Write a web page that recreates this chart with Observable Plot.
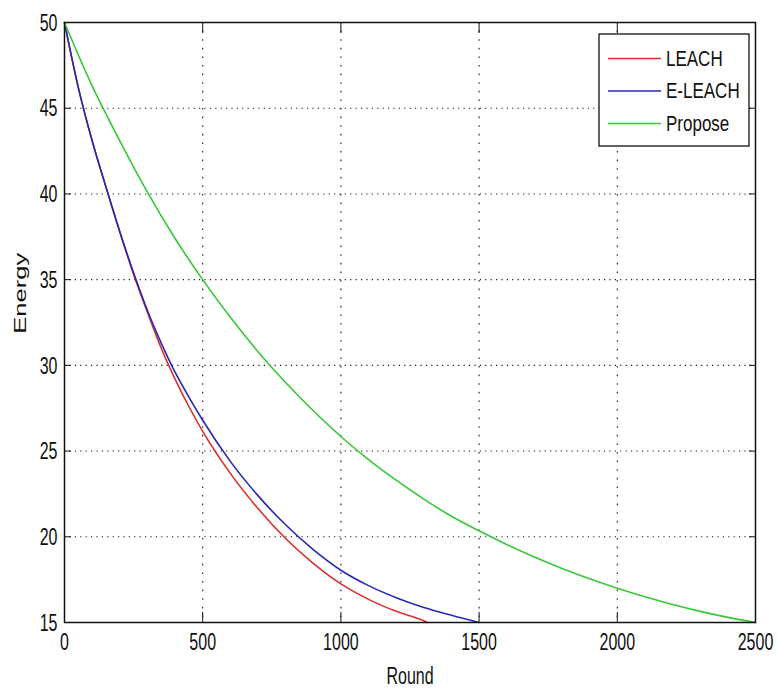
<!DOCTYPE html>
<html>
<head>
<meta charset="utf-8">
<script src="https://cdn.jsdelivr.net/npm/d3@7"></script>
<script src="https://cdn.jsdelivr.net/npm/@observablehq/plot@0.6"></script>
<style>
  html, body { margin: 0; padding: 0; background: white; }
  #chart svg { display: block; }
</style>
</head>
<body>
<div id="chart"></div>
<script>
// ---- Data ----
const seriesNames = ["LEACH", "E-LEACH", "Propose"];
const seriesColors = ["#d9302c", "#2828b4", "#36c836"];

const leachRounds = [0, 50, 100, 150, 200, 250, 300, 350, 400, 450, 500, 600, 700, 800, 900, 1000, 1100, 1200, 1300, 1313];
const leachEnergy = [50, 46.2, 43.1, 40.4, 37.8, 35.3, 33.1, 31.0, 29.2, 27.6, 26.15, 23.7, 21.65, 19.9, 18.45, 17.25, 16.35, 15.65, 15.1, 15.0];

const eleachRounds = [0, 50, 100, 150, 200, 250, 300, 350, 400, 450, 500, 600, 700, 800, 900, 1000, 1100, 1200, 1300, 1400, 1500];
const eleachEnergy = [50, 46.2, 43.1, 40.4, 37.8, 35.4, 33.2, 31.3, 29.6, 28.15, 26.8, 24.4, 22.4, 20.7, 19.25, 18.05, 17.15, 16.45, 15.88, 15.42, 15.0];

const proposeRounds = [0, 100, 200, 300, 400, 500, 600, 700, 800, 900, 1000, 1100, 1200, 1300, 1400, 1500, 1600, 1700, 1800, 1900, 2000, 2100, 2200, 2300, 2400, 2500];
const proposeEnergy = [50, 46.3, 43.1, 40.1, 37.4, 35.0, 32.8, 30.8, 29.0, 27.35, 25.85, 24.5, 23.3, 22.2, 21.2, 20.35, 19.55, 18.82, 18.15, 17.55, 17.0, 16.5, 16.05, 15.65, 15.3, 15.0];

const xTicks = [0, 500, 1000, 1500, 2000, 2500];
const yTicks = [15, 20, 25, 30, 35, 40, 45, 50];
const xLabel = "Round";
const yLabel = "Energy";

(function () {
  const toRows = (rounds, energy, name) => rounds.map((r, i) => ({round: r, energy: energy[i], series: name}));
  const rows = [
    toRows(leachRounds, leachEnergy, seriesNames[0]),
    toRows(eleachRounds, eleachEnergy, seriesNames[1]),
    toRows(proposeRounds, proposeEnergy, seriesNames[2])
  ];

  const innerX = xTicks.slice(1, -1);
  const innerY = yTicks.slice(1, -1);
  const plain = d => String(d);

  const chart = Plot.plot({
    width: 778,
    height: 688,
    marginTop: 22,
    marginRight: 23,
    marginBottom: 66,
    marginLeft: 64,
    style: {background: "white", fontFamily: "'Liberation Sans', Arial, sans-serif", fontSize: "16px", color: "#111"},
    x: {domain: [0, 2500]},
    y: {domain: [15, 50]},
    marks: [
      Plot.gridX(innerX, {stroke: "#1a1a1a", strokeOpacity: 1, strokeWidth: 1.1, strokeDasharray: "1.6,7"}),
      Plot.gridY(innerY, {stroke: "#1a1a1a", strokeOpacity: 1, strokeWidth: 1.1, strokeDasharray: "1.2,4.2"}),
      Plot.line(rows[0], {x: "round", y: "energy", stroke: seriesColors[0], strokeWidth: 1.6, curve: "monotone-x"}),
      Plot.line(rows[1], {x: "round", y: "energy", stroke: seriesColors[1], strokeWidth: 1.6, curve: "monotone-x"}),
      Plot.line(rows[2], {x: "round", y: "energy", stroke: seriesColors[2], strokeWidth: 1.6, curve: "monotone-x"}),
      Plot.axisX(xTicks, {anchor: "bottom", tickSize: -10, tickPadding: 23, tickFormat: plain, label: null, fontSize: 16, stroke: "#111"}),
      Plot.axisX(xTicks, {anchor: "top", tickSize: -10, tickFormat: () => "", label: null, stroke: "#111"}),
      Plot.axisY(yTicks, {anchor: "left", tickSize: -7, tickPadding: 14, tickFormat: plain, label: null, fontSize: 16, stroke: "#111"}),
      Plot.axisY(yTicks, {anchor: "right", tickSize: -7, tickFormat: () => "", label: null, stroke: "#111"}),
      Plot.frame({stroke: "#111", strokeWidth: 1.5}),
      Plot.text([xLabel], {frameAnchor: "bottom", text: d => d, dy: 53, lineAnchor: "middle", fontSize: 16, fill: "#111"}),
      Plot.text([yLabel], {frameAnchor: "left", text: d => d, dx: -44, dy: -4, rotate: -90, lineAnchor: "middle", fontSize: 16, fill: "#111"})
    ]
  });

  document.getElementById("chart").appendChild(chart);
  const svg = d3.select(chart);

  // ---- Legend ----
  const xs = chart.scale("x"), ys = chart.scale("y");
  const frameRight = xs.apply(2500), frameTop = ys.apply(50);
  const boxW = 150, boxH = 112;
  const bx = frameRight - 6 - boxW, by = frameTop + 12;
  const lg = svg.append("g").attr("class", "legend").attr("text-anchor", "start");
  lg.append("rect").attr("x", bx).attr("y", by).attr("width", boxW).attr("height", boxH)
    .attr("fill", "white").attr("stroke", "#111").attr("stroke-width", 1.3);
  seriesNames.forEach((name, i) => {
    const cy = by + 24.5 + i * 32.5;
    lg.append("line").attr("x1", bx + 9).attr("x2", bx + 62).attr("y1", cy).attr("y2", cy)
      .attr("stroke", seriesColors[i]).attr("stroke-width", 1.6);
    lg.append("text").attr("class", "legend-text").attr("x", bx + 67).attr("y", cy).attr("dy", "0.36em")
      .attr("text-anchor", "start").attr("font-size", 17).attr("fill", "#111").text(name);
  });

  // ---- Vertical stretch of text (reference text is tall and narrow) ----
  function stretch(sel, sx, sy) {
    sel.each(function () {
      if (!this.textContent) return;
      const b = this.getBBox();
      const cx = b.x + b.width / 2, cy = b.y + b.height / 2;
      const t = this.getAttribute("transform") || "";
      this.setAttribute("transform", `${t} translate(${cx},${cy}) scale(${sx},${sy}) translate(${-cx},${-cy})`);
    });
  }
  stretch(svg.selectAll('[aria-label="x-axis tick label"] text'), 1, 1.55);
  stretch(svg.selectAll('[aria-label="y-axis tick label"] text'), 1, 1.55);
  svg.selectAll('[aria-label="text"] text').each(function () {
    const t = this.textContent;
    if (t === xLabel) stretch(d3.select(this), 1, 1.55);
    if (t === yLabel) stretch(d3.select(this), 1.6, 1);
  });
  stretch(svg.selectAll(".legend-text"), 1, 1.25);
})();
</script>
</body>
</html>
